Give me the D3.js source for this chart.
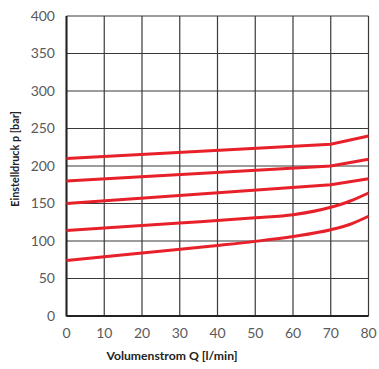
<!DOCTYPE html>
<html><head><meta charset="utf-8">
<script src="https://cdn.jsdelivr.net/npm/d3@7"></script>
<style>body{margin:0;background:#fff}svg{display:block}</style>
</head><body>
<svg id="c" width="379" height="369"></svg>
<script>
const xTicks = [0,10,20,30,40,50,60,70,80];
const yTicks = [0,50,100,150,200,250,300,350,400];
const curve1 = [[0,210],[70,229],[80,240]];
const curve2 = [[0,180],[70,200],[80,209]];
const curve3 = [[0,150],[70,175],[80,183]];
const curve4 = [[0,114],[30,124],[50,131],[60,135],[70,145],[75,153],[80,164]];
const curve5 = [[0,74],[20,84],[40,94],[50,99.5],[60,106],[70,115],[75,122],[80,133]];
const curves = [curve1,curve2,curve3,curve4,curve5];

const svg = d3.select("#c");
const L=66.5,R=368.5,T=16,B=316;
const x = d3.scaleLinear().domain([0,80]).range([L,R]);
const y = d3.scaleLinear().domain([0,400]).range([B,T]);

const g = svg.append("g");
g.selectAll("line.v").data(xTicks).join("line")
  .attr("x1",d=>x(d)).attr("x2",d=>x(d)).attr("y1",T).attr("y2",B)
  .attr("stroke","#3a3a3a").attr("stroke-width",1.2);
g.selectAll("line.h").data(yTicks).join("line")
  .attr("y1",d=>y(d)).attr("y2",d=>y(d)).attr("x1",L).attr("x2",R)
  .attr("stroke","#3a3a3a").attr("stroke-width",1.2);
g.append("line").attr("x1",L).attr("x2",L).attr("y1",T).attr("y2",B+0.5).attr("stroke","#222").attr("stroke-width",2);
g.append("line").attr("x1",L).attr("x2",R).attr("y1",B).attr("y2",B).attr("stroke","#222").attr("stroke-width",2);

g.selectAll("text.yt").data(yTicks).join("text")
  .attr("x",55).attr("y",d=>y(d)).attr("dy","0.35em").attr("text-anchor","end")
  .attr("font-family","Lato, sans-serif").attr("font-size",14).attr("fill","#5a5a5a").text(d=>d);
g.selectAll("text.xt").data(xTicks).join("text")
  .attr("x",d=>x(d)).attr("y",333).attr("dy","0.35em").attr("text-anchor","middle")
  .attr("font-family","Lato, sans-serif").attr("font-size",14).attr("fill","#5a5a5a").text(d=>d);

const smooth = d3.line().x(d=>x(d[0])).y(d=>y(d[1])).curve(d3.curveMonotoneX);
const straight = d3.line().x(d=>x(d[0])).y(d=>y(d[1]));
svg.selectAll("path.c").data(curves).join("path")
  .attr("d",d=>d.length>3?smooth(d):straight(d))
  .attr("fill","none").attr("stroke","#e8202a").attr("stroke-width",3);

svg.append("text").attr("x",172).attr("y",360).attr("text-anchor","middle")
  .attr("font-family","Lato, sans-serif").attr("font-weight","bold").attr("font-size",12.2).attr("fill","#222")
  .text("Volumenstrom Q [l/min]");
svg.append("text").attr("transform","translate(19,159) rotate(-90)").attr("text-anchor","middle")
  .attr("font-family","Lato, sans-serif").attr("font-weight","bold").attr("font-size",10.8).attr("fill","#222")
  .text("Einstelldruck p [bar]");
</script>
</body></html>
